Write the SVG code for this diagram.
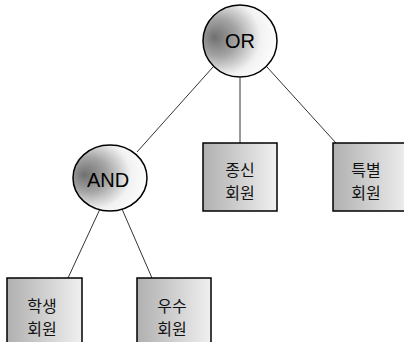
<svg xmlns="http://www.w3.org/2000/svg" width="404" height="342" viewBox="0 0 404 342">
  <defs>
    <radialGradient id="ball" cx="0.3" cy="0.45" r="0.75" fx="0.15" fy="0.45">
      <stop offset="0" stop-color="#707070"/>
      <stop offset="0.35" stop-color="#a4a4a4"/>
      <stop offset="0.7" stop-color="#f2f2f2"/>
      <stop offset="1" stop-color="#ffffff"/>
    </radialGradient>
    <linearGradient id="card" x1="0" y1="0" x2="1" y2="0">
      <stop offset="0" stop-color="#b0b0b0"/>
      <stop offset="0.6" stop-color="#d6d6d6"/>
      <stop offset="1" stop-color="#f0f0f0"/>
    </linearGradient>
  </defs>
  <style>
    .edge { stroke: #333; stroke-width: 1; fill: none; }
    .gate { fill: url(#ball); stroke: #000; stroke-width: 1.5; }
    .leaf { fill: url(#card); stroke: #000; stroke-width: 1.5; }
    .gtxt { font-family: "Liberation Sans", Arial, sans-serif; font-size: 20px; fill: #000; text-anchor: middle; }
    .ltxt { font-family: "Noto Sans CJK KR", "Noto Sans", sans-serif; font-size: 16px; fill: #111; text-anchor: middle; }
  </style>
  <rect width="404" height="342" fill="#fff"/>
  <g id="connectors">
    <line class="edge" x1="213" y1="67" x2="137" y2="152"/>
    <line class="edge" x1="240" y1="78" x2="240" y2="143"/>
    <line class="edge" x1="267" y1="67" x2="336" y2="143"/>
    <line class="edge" x1="100" y1="209" x2="68" y2="278"/>
    <line class="edge" x1="122" y1="209" x2="152" y2="278"/>
  </g>
  <g id="or">
    <ellipse class="gate" cx="240" cy="41" rx="37" ry="36"/>
    <text class="gtxt" x="240" y="48">OR</text>
  </g>
  <g id="and">
    <ellipse class="gate" cx="110" cy="178" rx="37" ry="33"/>
    <text class="gtxt" x="108" y="187">AND</text>
  </g>
  <g id="lifetime">
    <rect class="leaf" x="203" y="143" width="74" height="68"/>
    <text class="ltxt" x="240" y="176">종신</text>
    <text class="ltxt" x="240" y="199">회원</text>
  </g>
  <g id="special">
    <rect class="leaf" x="333" y="143" width="76" height="68"/>
    <text class="ltxt" x="366" y="176">특별</text>
    <text class="ltxt" x="366" y="199">회원</text>
  </g>
  <g id="student">
    <rect class="leaf" x="7" y="278" width="75" height="70"/>
    <text class="ltxt" x="42" y="312">학생</text>
    <text class="ltxt" x="42" y="335">회원</text>
  </g>
  <g id="honor">
    <rect class="leaf" x="137" y="278" width="74" height="70"/>
    <text class="ltxt" x="172" y="312">우수</text>
    <text class="ltxt" x="172" y="335">회원</text>
  </g>
</svg>
